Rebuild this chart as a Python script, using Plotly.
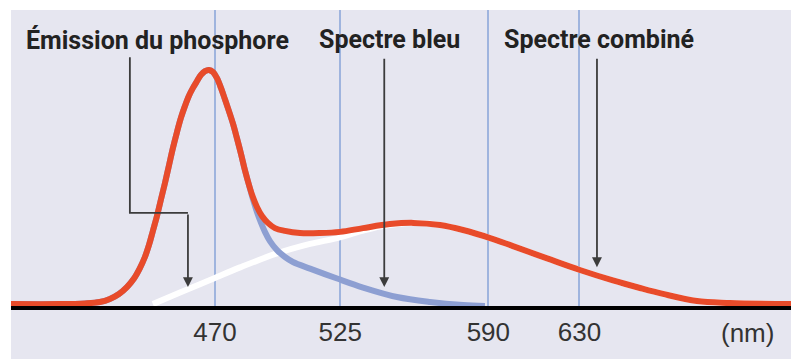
import plotly.graph_objects as go

# ---- data (wavelength in nm, relative intensity) ----
combined_nm = [380.4, 401.9, 412.9, 419.4, 423.8, 427.8, 431.3, 434.4, 437.0, 439.2, 441.0, 442.7,
               444.5, 446.2, 448.0, 449.8, 451.5, 453.3, 455.0, 456.8, 458.5, 460.3, 462.1, 463.8,
               465.6, 467.3, 469.1, 470.8, 472.6, 474.3, 476.1, 477.9, 479.6, 481.4, 483.1, 484.9,
               486.6, 488.4, 490.6, 493.2, 496.3, 500.7, 507.3, 516.1, 524.9, 535.0, 546.8, 557.0,
               568.8, 578.9, 590.8, 600.8, 615.8, 630.2, 644.7, 656.6, 666.7, 681.6, 696.1, 722.9]
combined_val = [0.008, 0.008, 0.011, 0.017, 0.030, 0.051, 0.080, 0.116, 0.160, 0.207, 0.258, 0.317,
                0.380, 0.448, 0.519, 0.595, 0.667, 0.735, 0.794, 0.845, 0.887, 0.921, 0.950, 0.976,
                0.992, 0.997, 0.988, 0.963, 0.921, 0.874, 0.823, 0.769, 0.709, 0.642, 0.574, 0.511,
                0.460, 0.418, 0.380, 0.351, 0.329, 0.317, 0.308, 0.308, 0.313, 0.329, 0.346, 0.351,
                0.342, 0.321, 0.287, 0.253, 0.201, 0.152, 0.108, 0.076, 0.051, 0.021, 0.013, 0.008]

blue_nm = [380.4, 401.9, 412.9, 419.4, 423.8, 427.8, 431.3, 434.4, 437.0, 439.2, 441.0, 442.7,
           444.5, 446.2, 448.0, 449.8, 451.5, 453.3, 455.0, 456.8, 458.5, 460.3, 462.1, 463.8,
           465.6, 467.3, 469.1, 470.8, 472.6, 474.3, 476.1, 477.9, 479.6, 481.4, 483.1, 484.9,
           486.6, 488.4, 490.2, 491.9, 494.1, 497.2, 500.7, 504.2, 511.7, 523.6, 535.0, 549.9,
           564.4, 578.9, 588.5]
blue_val = [0.008, 0.008, 0.011, 0.017, 0.030, 0.051, 0.080, 0.116, 0.160, 0.207, 0.258, 0.317,
            0.380, 0.448, 0.519, 0.595, 0.667, 0.735, 0.794, 0.845, 0.887, 0.921, 0.950, 0.976,
            0.992, 0.997, 0.988, 0.963, 0.921, 0.874, 0.823, 0.769, 0.709, 0.642, 0.574, 0.511,
            0.452, 0.397, 0.351, 0.313, 0.274, 0.236, 0.207, 0.186, 0.158, 0.116, 0.078, 0.038,
            0.017, 0.004, 0.0]

phosphor_nm = [442.7, 454.6, 467.8, 481.0, 497.2, 511.7, 523.6, 533.7, 542.4, 557.0, 568.8, 578.9,
               590.8, 600.8, 615.8, 630.2, 644.7, 656.6, 666.7, 681.6, 696.1, 722.9]
phosphor_val = [0.008, 0.057, 0.110, 0.163, 0.222, 0.262, 0.287, 0.315, 0.336, 0.351, 0.342, 0.321,
                0.287, 0.253, 0.201, 0.152, 0.108, 0.076, 0.051, 0.021, 0.013, 0.008]

tick_nm = [470, 525, 590, 630]
tick_labels = ["470", "525", "590", "630"]
unit_label = "(nm)"
series_labels = ["Émission du phosphore", "Spectre bleu", "Spectre combiné"]

RED = "#e84b2a"
BLUE = "#8d9fd2"
GRID = "#9fb4de"
BG = "#e6e6f0"
LABEL_FONT = "Roboto, Liberation Sans, sans-serif"
TICK_FONT = "Liberation Sans, Arial, sans-serif"

fig = go.Figure()
line_style = dict(width=6, shape="spline", smoothing=1.0)
fig.add_trace(go.Scatter(x=phosphor_nm, y=phosphor_val, mode="lines",
                         line=dict(color="white", **line_style),
                         name=series_labels[0], hoverinfo="skip"))
fig.add_trace(go.Scatter(x=blue_nm, y=blue_val, mode="lines",
                         line=dict(color=BLUE, **line_style),
                         name=series_labels[1], hoverinfo="skip"))
fig.add_trace(go.Scatter(x=combined_nm, y=combined_val, mode="lines",
                         line=dict(color=RED, **line_style),
                         name=series_labels[2], hoverinfo="skip"))

X0, X1 = 380.4, 722.9
Y0, Y1 = 0.0, 1.25
B = 53
PLOT_H = 359 - 10 - B

fig.update_layout(
    width=791, height=359,
    margin=dict(l=11, r=0, t=10, b=B, pad=0),
    paper_bgcolor="white",
    plot_bgcolor=BG,
    showlegend=False,
    xaxis=dict(range=[X0, X1], tickvals=tick_nm, ticktext=tick_labels,
               showgrid=True, gridcolor=GRID, gridwidth=1.5,
               zeroline=False, showline=True, linecolor="black", linewidth=4,
               ticks="", tickfont=dict(family=TICK_FONT, size=26, color="#333333"),
               ticklabelstandoff=0, automargin=False, fixedrange=True),
    yaxis=dict(range=[Y0, Y1], showgrid=False, zeroline=False, showline=False,
               showticklabels=False, ticks="", automargin=False, fixedrange=True),
)

# lavender band below the axis
fig.add_shape(type="rect", xref="paper", yref="paper", x0=0, x1=1, y0=-B / PLOT_H, y1=0,
              fillcolor=BG, line=dict(width=0), layer="below")

ARROW = "#3c3c3c"
# elbow for the phosphor label
fig.add_shape(type="path", xref="x", yref="y",
              path="M 432.6 1.05 L 432.6 0.393 L 458.1 0.393",
              line=dict(color=ARROW, width=1.8))
arrows = [(458.1, 0.08, 458.1, 0.393), (544.3, 0.08, 544.3, 1.05), (637.7, 0.164, 637.7, 1.05)]
for x, y, ax, ay in arrows:
    fig.add_annotation(x=x, y=y, ax=ax, ay=ay, xref="x", yref="y", axref="x", ayref="y",
                       showarrow=True, arrowhead=2, arrowsize=1.1, arrowwidth=1.8,
                       arrowcolor=ARROW, text="")

label_x = [444.7, 546.8, 638.6]
for lx, txt in zip(label_x, series_labels):
    fig.add_annotation(x=lx, y=1.124, xref="x", yref="y", text=f"<b>{txt}</b>",
                       showarrow=False, font=dict(family=LABEL_FONT, size=25, color="#222222"))

fig.add_annotation(x=704.0, y=-27 / PLOT_H, xref="x", yref="paper", yanchor="middle",
                   text=unit_label, showarrow=False,
                   font=dict(family=TICK_FONT, size=26, color="#333333"))

fig.write_html("out.html", config={"displayModeBar": False},
               post_script="document.body.style.margin='0';")
